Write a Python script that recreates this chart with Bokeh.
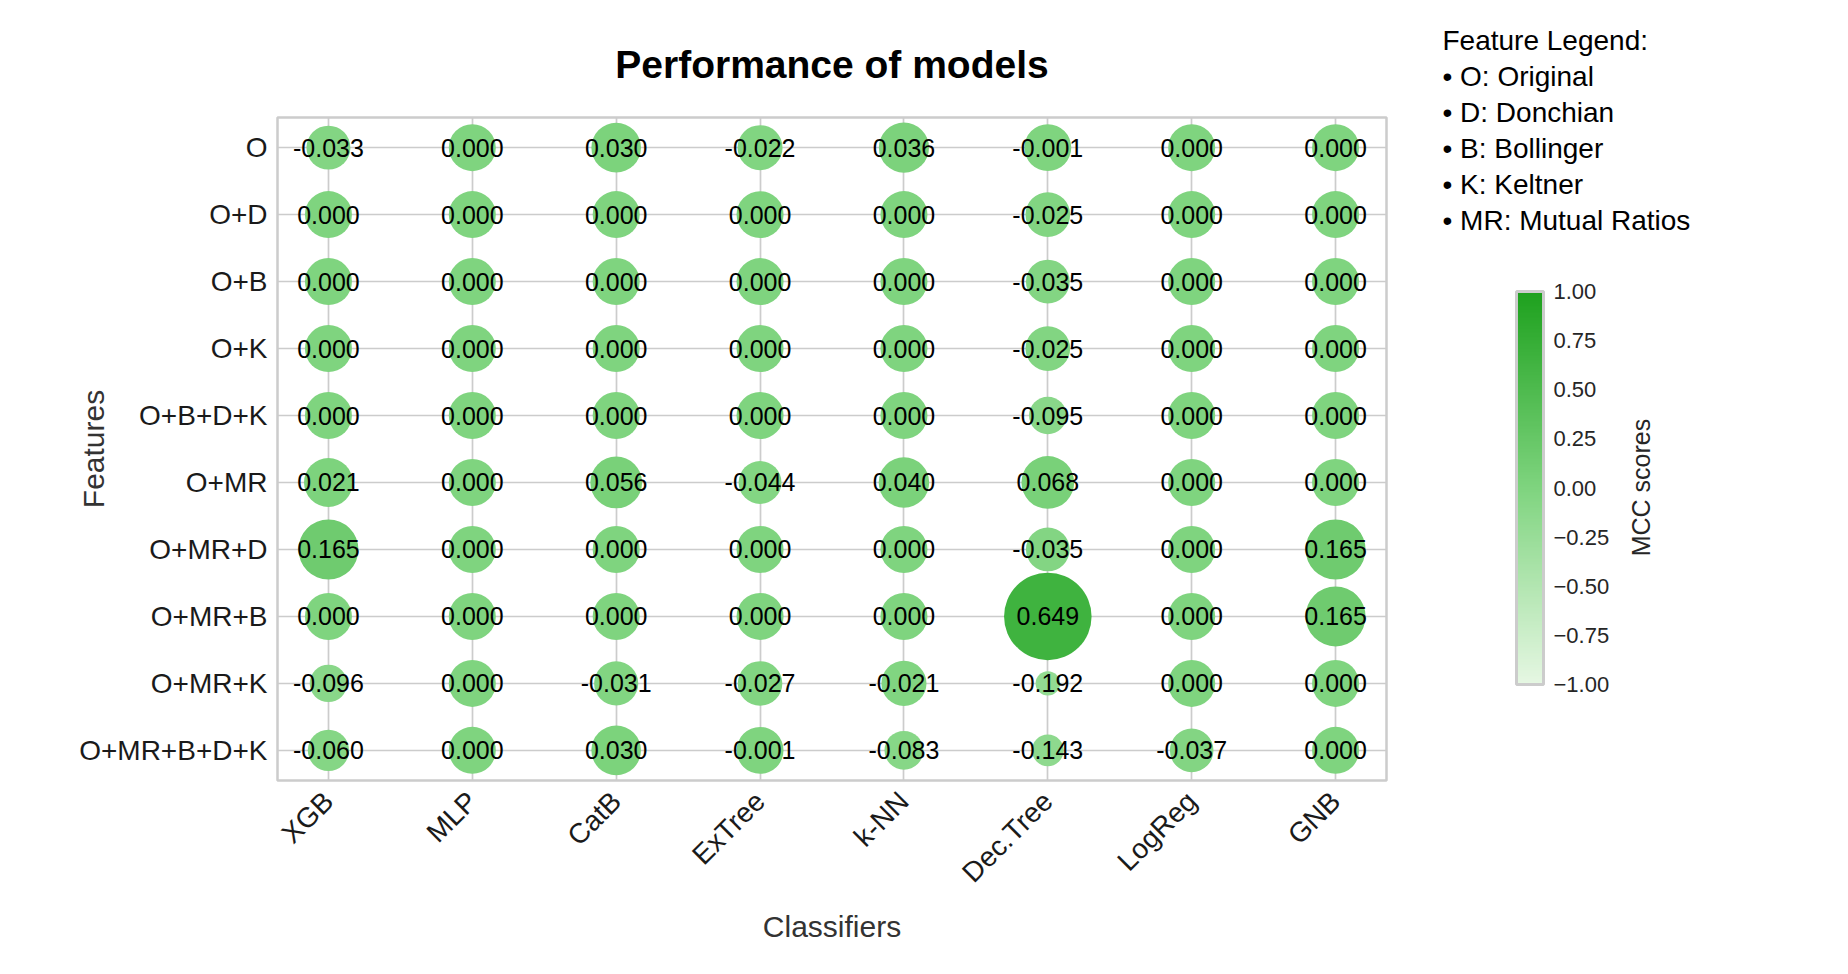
import math
from bokeh.plotting import figure
from bokeh.models import (ColumnDataSource, Range1d, FixedTicker, LinearColorMapper,
                          ColorBar, CustomJSTickFormatter)
from bokeh.layouts import row
from bokeh.embed import file_html
from bokeh.resources import INLINE
from bokeh.core.properties import value

# ---------------- data ----------------
classifiers = ["XGB", "MLP", "CatB", "ExTree", "k-NN", "Dec.Tree", "LogReg", "GNB"]
feature_sets = ["O", "O+D", "O+B", "O+K", "O+B+D+K", "O+MR", "O+MR+D", "O+MR+B",
                "O+MR+K", "O+MR+B+D+K"]

mcc_O          = [-0.033, 0.000, 0.030, -0.022, 0.036, -0.001, 0.000, 0.000]
mcc_O_D        = [0.000, 0.000, 0.000, 0.000, 0.000, -0.025, 0.000, 0.000]
mcc_O_B        = [0.000, 0.000, 0.000, 0.000, 0.000, -0.035, 0.000, 0.000]
mcc_O_K        = [0.000, 0.000, 0.000, 0.000, 0.000, -0.025, 0.000, 0.000]
mcc_O_BDK      = [0.000, 0.000, 0.000, 0.000, 0.000, -0.095, 0.000, 0.000]
mcc_O_MR       = [0.021, 0.000, 0.056, -0.044, 0.040, 0.068, 0.000, 0.000]
mcc_O_MR_D     = [0.165, 0.000, 0.000, 0.000, 0.000, -0.035, 0.000, 0.165]
mcc_O_MR_B     = [0.000, 0.000, 0.000, 0.000, 0.000, 0.649, 0.000, 0.165]
mcc_O_MR_K     = [-0.096, 0.000, -0.031, -0.027, -0.021, -0.192, 0.000, 0.000]
mcc_O_MR_BDK   = [-0.060, 0.000, 0.030, -0.001, -0.083, -0.143, -0.037, 0.000]

mcc_rows = [mcc_O, mcc_O_D, mcc_O_B, mcc_O_K, mcc_O_BDK, mcc_O_MR, mcc_O_MR_D,
            mcc_O_MR_B, mcc_O_MR_K, mcc_O_MR_BDK]

legend_lines = ["Feature Legend:", "\u2022 O: Original", "\u2022 D: Donchian",
                "\u2022 B: Bollinger", "\u2022 K: Keltner", "\u2022 MR: Mutual Ratios"]
colorbar_ticks = [-1.0, -0.75, -0.5, -0.25, 0.0, 0.25, 0.5, 0.75, 1.0]

# ---------------- styling helpers ----------------
FONT = "Liberation Sans"
stops = [(-1.0, (230, 247, 227)), (0.0, (127, 212, 127)), (1.0, (30, 161, 30))]


def interp_color(t):
    for (a, ca), (b, cb) in zip(stops[:-1], stops[1:]):
        if a <= t <= b:
            f = (t - a) / (b - a)
            c = [round(ca[k] + (cb[k] - ca[k]) * f) for k in range(3)]
            return "#%02x%02x%02x" % tuple(c)
    return "#%02x%02x%02x" % stops[-1][1]


palette = [interp_color(-1 + 2 * i / 255) for i in range(256)]
mapper = LinearColorMapper(palette=palette, low=-1, high=1)

xs, ys, vals, labels, sizes = [], [], [], [], []
for r, row_vals in enumerate(mcc_rows):
    for c, v in enumerate(row_vals):
        xs.append(c)
        ys.append(r)
        vals.append(v)
        labels.append("%.3f" % v)
        sizes.append(math.sqrt(max(2209 + 8400 * v, 100)))

src = ColumnDataSource(dict(x=xs, y=ys, mcc=vals, label=labels, size=sizes))

# ---------------- layout constants (screen px) ----------------
W1, W2, H = 1392, 436, 970
FL, FT, FR, FB = 277, 117, 1386, 780   # main frame edges

p = figure(width=W1, height=H,
           x_range=Range1d(-0.354, 7.354), y_range=Range1d(9.45, -0.45),
           output_backend="svg", toolbar_location=None,
           min_border_left=FL, min_border_right=W1 - FR,
           min_border_top=FT, min_border_bottom=H - FB)

p.scatter("x", "y", size="size", source=src, line_color=None,
          fill_color={"field": "mcc", "transform": mapper})
p.text("x", "y", text="label", source=src, text_font=value(FONT),
       text_font_size="25px", text_align="center", text_baseline="middle",
       text_color="black")

p.title.text = "Performance of models"
p.title.align = "center"
p.title.text_font = FONT
p.title.text_font_size = "39px"
p.title.text_font_style = "bold"
p.title.text_color = "black"
p.title.standoff = 64

p.xaxis.ticker = FixedTicker(ticks=list(range(len(classifiers))))
p.xaxis.major_label_overrides = {i: c for i, c in enumerate(classifiers)}
p.yaxis.ticker = FixedTicker(ticks=list(range(len(feature_sets))))
p.yaxis.major_label_overrides = {i: f for i, f in enumerate(feature_sets)}
p.xaxis.major_label_orientation = math.pi / 4

for ax in (p.xaxis, p.yaxis):
    ax.axis_line_color = None
    ax.major_tick_line_color = None
    ax.minor_tick_line_color = None
    ax.major_label_text_font = FONT
    ax.major_label_text_font_size = "28px"
    ax.major_label_text_color = "#1a1a1a"
    ax.axis_label_text_font = FONT
    ax.axis_label_text_font_size = "30px"
    ax.axis_label_text_font_style = "normal"
    ax.axis_label_text_color = "#333333"

p.xaxis.major_label_standoff = 10
p.yaxis.major_label_standoff = 4
p.xaxis.axis_label = "Classifiers"
p.yaxis.axis_label = "Features"
p.yaxis.axis_label_standoff = -34
p.xaxis.axis_label_standoff = 8

p.grid.grid_line_color = "#cccccc"
p.grid.grid_line_width = 1.7
p.xgrid.ticker = FixedTicker(ticks=list(range(len(classifiers))))
p.ygrid.ticker = FixedTicker(ticks=list(range(len(feature_sets))))
p.outline_line_color = "#cccccc"
p.outline_line_width = 2.5

# ---------------- side panel (page-pixel data coords) ----------------
p2 = figure(width=W2, height=H, x_range=Range1d(W1, W1 + W2), y_range=Range1d(FB, FT),
            output_backend="svg", toolbar_location=None,
            min_border_left=0, min_border_right=0,
            min_border_top=FT, min_border_bottom=H - FB)
p2.axis.visible = False
p2.grid.visible = False
p2.outline_line_color = None

p2.text(x=[1640], y=[487], text=["MCC scores"], angle=math.pi / 2,
        text_font=value(FONT), text_font_size="25px", text_baseline="middle",
        text_align="center", text_color="#262626")

cb = ColorBar(color_mapper=mapper, ticker=FixedTicker(ticks=colorbar_ticks),
              formatter=CustomJSTickFormatter(
                  code="return (tick < 0 ? '\u2212' : '') + Math.abs(tick).toFixed(2);"),
              orientation="vertical",
              width=27, height=393, location=(1516 - W1, FB - 684), padding=0,
              label_standoff=10, major_label_text_font=FONT,
              major_label_text_font_size="22px", major_label_text_color="#262626",
              major_tick_line_color=None, minor_tick_line_color=None,
              bar_line_color="#cccccc", bar_line_width=3,
              background_fill_alpha=0, border_line_color=None)
p2.add_layout(cb, "center")

# Feature legend: text lines carried by (invisible-scale) horizontal colour-bar
# titles, which Bokeh draws without clipping to the frame.
for i, line in enumerate(legend_lines):
    centre_y = 39 + 36 * i
    tb = ColorBar(color_mapper=mapper, ticker=FixedTicker(ticks=[]),
                  orientation="horizontal",
                  width=4, height=1, padding=0, margin=0, label_standoff=0,
                  location=(1442 - W1, FB - (centre_y + 17)),
                  title=line, title_standoff=0, title_text_font=FONT,
                  title_text_font_size="28px", title_text_font_style="normal",
                  title_text_color="black", title_text_align="left",
                  scale_alpha=0,
                  bar_line_color=None, major_tick_line_color=None,
                  minor_tick_line_color=None, major_label_text_alpha=0,
                  background_fill_alpha=0, border_line_color=None)
    p2.add_layout(tb, "center")

layout = row(p, p2)
open("out.html", "w", encoding="utf-8").write(file_html(layout, INLINE))
